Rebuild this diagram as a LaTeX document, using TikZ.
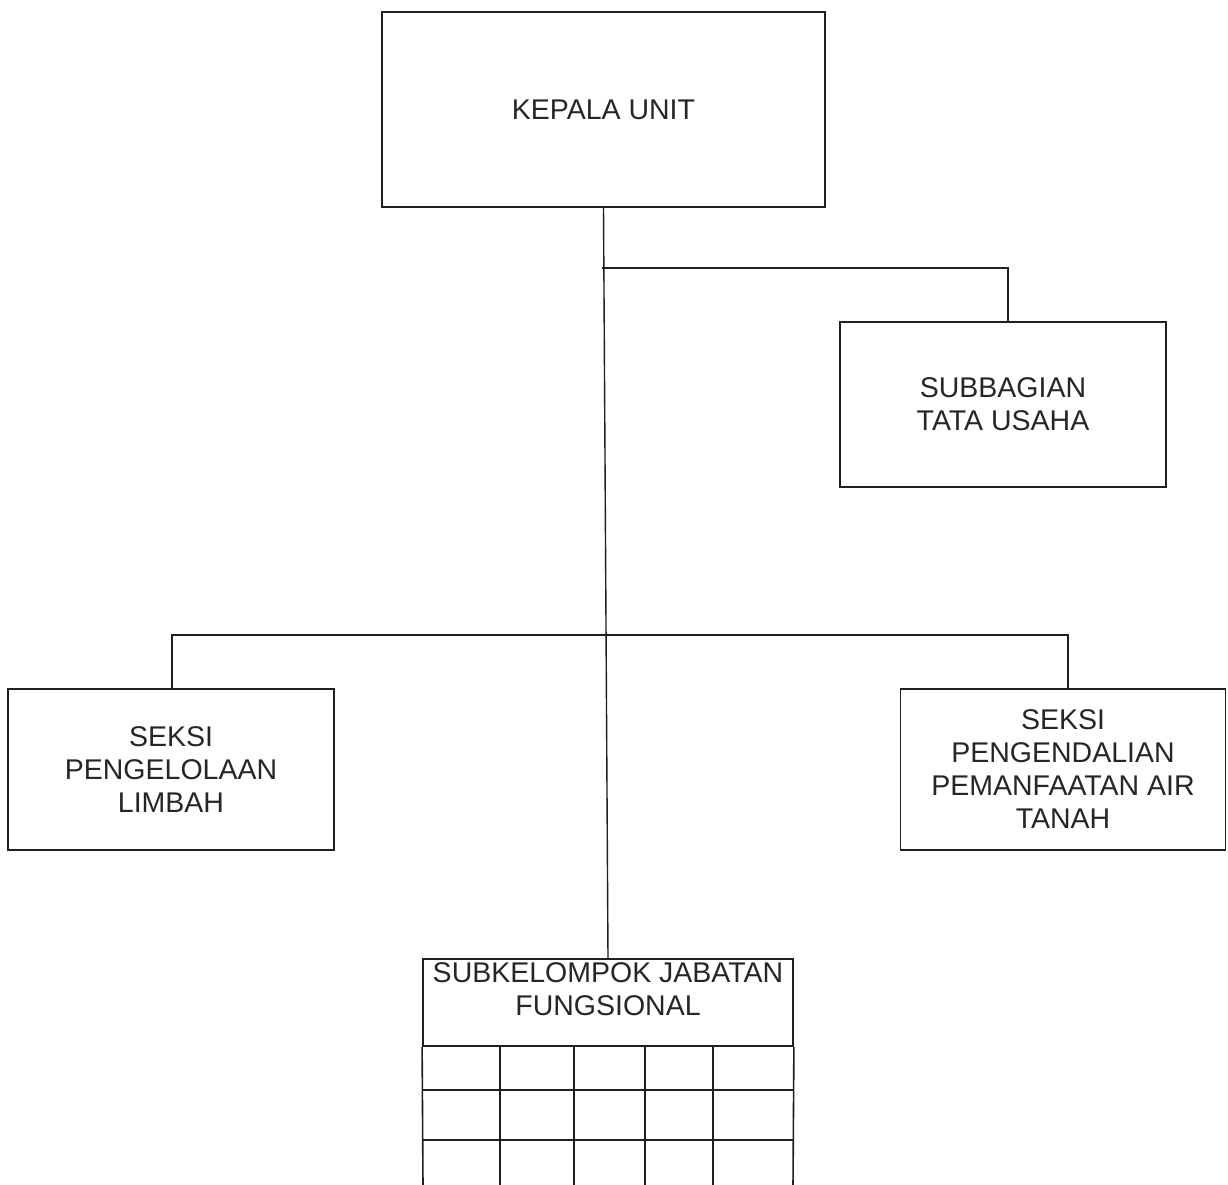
\documentclass[tikz,border=0pt]{standalone}
\usepackage{fontspec}
\setmainfont{Liberation Sans}
\begin{document}
\begin{tikzpicture}[x=1pt,y=-1pt,
  ink/.style={draw=black!88},
  orgbox/.style={ink,line width=1.8pt,inner sep=0pt,align=center,
     font=\fontsize{28.5}{33}\selectfont,text=black!85},
  link/.style={ink,line width=1.4pt},
  gridline/.style={ink,line width=1.6pt}]
\useasboundingbox[fill=white] (0,0) rectangle (1228,1185);

\node[orgbox,minimum width=443pt,minimum height=195pt] (kepala) at (603.5,109.5) {KEPALA UNIT};
\node[orgbox,minimum width=326pt,minimum height=165pt] (tu) at (1003,404.5) {SUBBAGIAN\\TATA USAHA};
\node[orgbox,minimum width=326pt,minimum height=161pt] (limbah) at (171,769.5) {SEKSI\\PENGELOLAAN\\LIMBAH};
\node[orgbox,minimum width=325pt,minimum height=161pt] (air) at (1063,769.5) {SEKSI\\PENGENDALIAN\\PEMANFAATAN AIR\\TANAH};
\node[orgbox,minimum width=370pt,minimum height=87pt] (fung) at (608,1002.5) {};
\node[align=center,font=\fontsize{28.5}{33}\selectfont,text=black!85,inner sep=0pt] (fungtext) at (608,989) {SUBKELOMPOK JABATAN\\FUNGSIONAL};

% grid under the functional group header
\draw[gridline] (fung.south west) -- (423,1186);
\draw[gridline] (fung.south east) -- (793,1186);
\foreach \gx in {500,574,645,713} \draw[gridline] (\gx,1046) -- (\gx,1186);
\foreach \gy in {1090,1140} \draw[gridline] (423,\gy) -- (793,\gy);

% connectors
\coordinate (j1) at (602,268);
\coordinate (j2) at (604.5,635);
\coordinate (tutop) at (1008,322);
\coordinate (ltop) at (172,689);
\coordinate (rtop) at (1068,689);
\draw[link] (kepala.south) -- (fung.north);
\draw[link] (j1) -| (tutop);
\draw[link] (ltop) |- (j2) -| (rtop);
\end{tikzpicture}
\end{document}
